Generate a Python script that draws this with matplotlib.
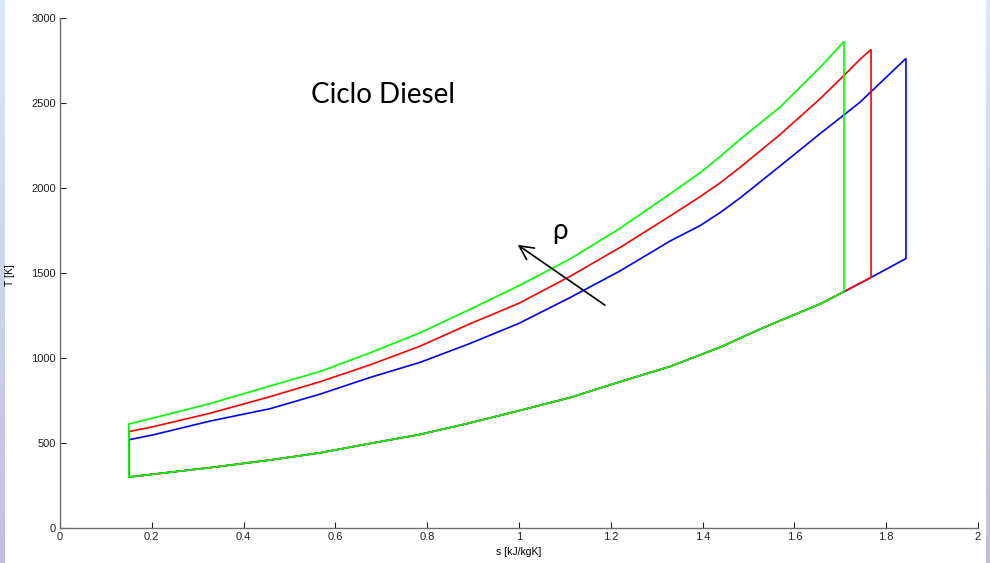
import numpy as np
import matplotlib
matplotlib.use("Agg")
import matplotlib.pyplot as plt
from matplotlib.colors import LinearSegmentedColormap

# Entropy s [kJ/kgK] and temperature T [K]
# constant-volume (heat rejection) branch, shared by the three cycles
s_low = [0.15, 0.327, 0.458, 0.566, 0.675, 0.784, 0.893, 1.0, 1.111, 1.22,
         1.329, 1.438, 1.532, 1.656, 1.708, 1.767, 1.843]
T_low = [300, 355, 400, 442, 497, 550, 618, 690, 767, 860,
         950, 1063, 1178, 1318, 1390, 1474, 1585]

# constant-pressure (heat addition) branch
s_up = [0.15, 0.203, 0.327, 0.458, 0.566, 0.675, 0.784, 0.893, 1.0, 1.111,
        1.22, 1.329, 1.394, 1.438, 1.481, 1.569, 1.656, 1.708, 1.743]
T_green = [612, 647, 732, 836, 920, 1030, 1148, 1286, 1426, 1582,
           1763, 1965, 2089, 2185, 2285, 2477, 2710]
T_red = [567, 596, 675, 773, 860, 959, 1069, 1201, 1322, 1480,
         1650, 1835, 1948, 2030, 2120, 2315, 2525, 2662, 2757]
T_blue = [519, 548, 629, 702, 787, 885, 974, 1085, 1204, 1355,
          1512, 1688, 1778, 1855, 1940, 2130, 2320, 2430, 2505]

# end of combustion (point 3) for each cycle
s_end = {"blue": 1.843, "red": 1.767, "green": 1.708}
T_peak = {"blue": 2762, "red": 2815, "green": 2862}

xticks = [0, 0.2, 0.4, 0.6, 0.8, 1, 1.2, 1.4, 1.6, 1.8, 2]
xticklabels = ["0", "0.2", "0.4", "0.6", "0.8", "1", "1.2", "1.4", "1.6", "1.8", "2"]
yticks = [0, 500, 1000, 1500, 2000, 2500, 3000]

fig = plt.figure(figsize=(9.9, 5.63), dpi=100)

# slide side strips (drawn first, underneath)
grad = np.linspace(0, 1, 256).reshape(-1, 1)
cm = LinearSegmentedColormap.from_list("strip", ["#dce9f6", "#c3bedd"])
for x0, w in [(0, 5/990), (986/990, 4/990)]:
    sa = fig.add_axes([x0, 0, w, 1])
    sa.imshow(grad, aspect="auto", cmap=cm, extent=[0, 1, 0, 1])
    sa.axis("off")

ax = fig.add_axes([60/990, 35/563, 918/990, 510/563])
ax.set_zorder(5)
ax.patch.set_alpha(0)


def cycle(T_up_vals, name, color):
    se = s_end[name]
    n = len(T_up_vals)
    su = list(s_up[:n]) + [se]
    tu = list(T_up_vals) + [T_peak[name]]
    T4 = np.interp(se, s_low, T_low)
    sl = [x for x in s_low if x < se] + [se]
    tl = [t for x, t in zip(s_low, T_low) if x < se] + [T4]
    xs = [s_low[0]] + su + [se] + sl[::-1]
    ys = [T_low[0]] + tu + [T4] + tl[::-1]
    ax.plot(xs, ys, color=color, lw=1.2, solid_joinstyle="miter")


cycle(T_blue, "blue", (0, 0, 1))
cycle(T_red, "red", (1, 0, 0))
cycle(T_green, "green", (0, 1, 0))

ax.set_xlim(0, 2)
ax.set_ylim(0, 3000)
ax.set_xticks(xticks)
ax.set_xticklabels(xticklabels)
ax.set_yticks(yticks)
for side in ["top", "right"]:
    ax.spines[side].set_visible(False)
for side in ["left", "bottom"]:
    ax.spines[side].set_color("#6e6e6e")
    ax.spines[side].set_linewidth(1.0)
ax.tick_params(direction="in", length=4, width=0.8, colors="#222222",
               labelsize=8, pad=3)
for lab in ax.get_xticklabels() + ax.get_yticklabels():
    lab.set_family("Liberation Sans")
ax.set_xlabel("s [kJ/kgK]", fontsize=7.5, family="Liberation Sans")
ax.xaxis.set_label_coords(0.5, -0.038)
ax.set_ylabel("T [K]", fontsize=7.5, family="Liberation Sans")
ax.yaxis.set_label_coords(-0.049, 0.496)

ax.text(0.704, 2550, "Ciclo Diesel", fontsize=20, family="Lato",
        ha="center", va="center", color="black")
ax.text(1.09, 1745, "ρ", fontsize=20, family="Lato", ha="center", va="center")
ax.annotate("", xy=(0.992, 1675), xytext=(1.192, 1302),
            arrowprops=dict(arrowstyle="->,head_length=1.0,head_width=0.5",
                            color="black", lw=1.2))

fig.savefig("out.png", dpi=100)
